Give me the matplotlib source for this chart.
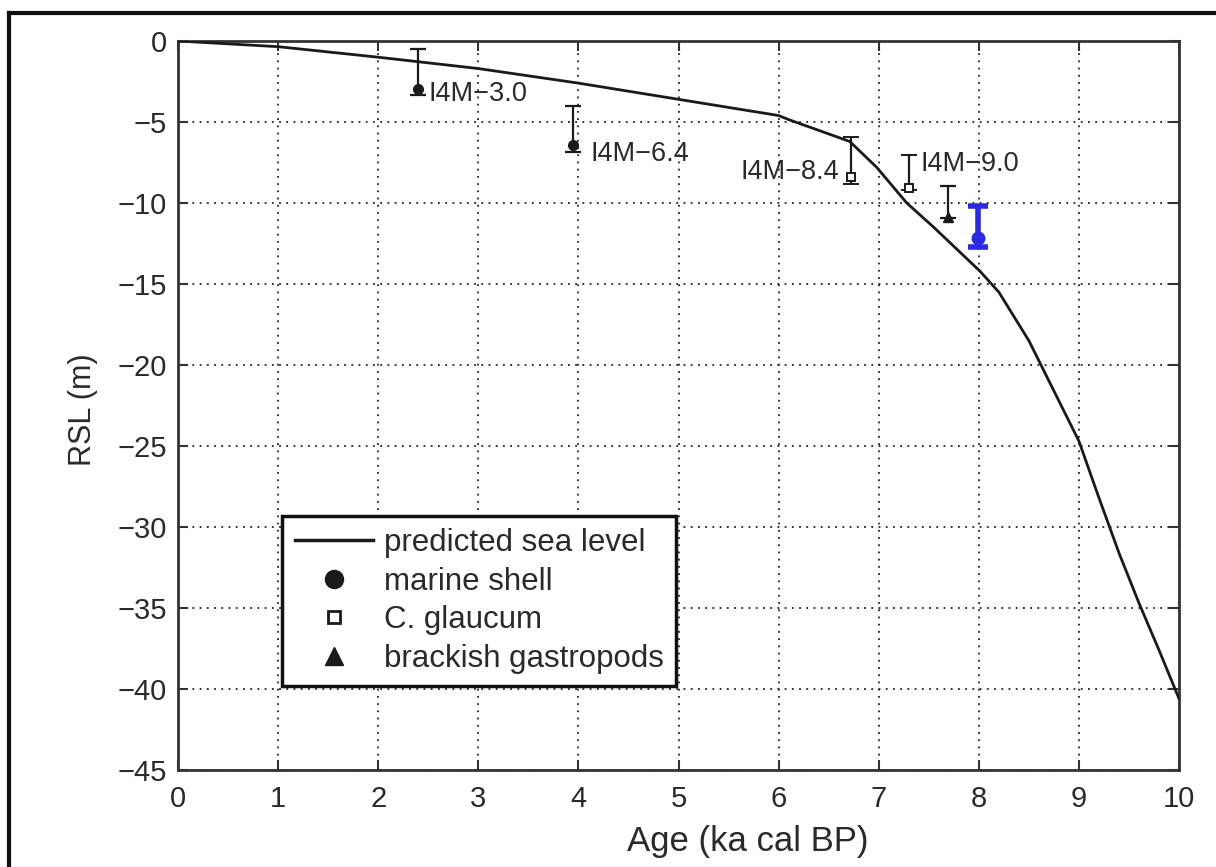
import matplotlib
matplotlib.use("Agg")
import matplotlib.pyplot as plt
from matplotlib.lines import Line2D

plt.rcParams['font.family'] = ['Liberation Sans', 'DejaVu Sans']

# Predicted relative sea level curve
curve_age = [0.0, 1.0, 2.0, 3.0, 4.0, 5.0, 6.0, 6.1, 6.71, 6.98, 7.28, 7.55, 8.01, 8.2, 8.5, 9.0, 9.2, 9.4, 9.6, 9.8, 10.0]
curve_rsl = [0.0, -0.35, -1.0, -1.7, -2.6, -3.6, -4.6, -4.85, -6.2, -7.8, -10.0, -11.5, -14.2, -15.5, -18.5, -24.7, -28.2, -31.6, -34.7, -37.6, -40.6]

# Dated samples: age, RSL, lower/upper error extents
shell_age = [2.40, 3.95]
shell_rsl = [-2.95, -6.4]
shell_lo = [0.4, 0.45]
shell_hi = [2.45, 2.4]

glaucum_age = [6.72, 7.30]
glaucum_rsl = [-8.4, -9.05]
glaucum_lo = [0.4, 0.15]
glaucum_hi = [2.45, 2.0]

gastro_age = [7.69]
gastro_rsl = [-10.85]
gastro_lo = [0.1]
gastro_hi = [1.9]

new_age = [7.99]
new_rsl = [-12.15]
new_lo = [0.55]
new_hi = [1.95]

sample_labels = ["I4M−3.0", "I4M−6.4", "I4M−8.4", "I4M−9.0"]
label_xy = [(2.5, -3.3), (4.12, -6.95), (6.6, -8.1), (7.42, -7.6)]
label_ha = ["left", "left", "right", "left"]

x_ticks = list(range(0, 11))
y_ticks = list(range(0, -50, -5))

fig = plt.figure(figsize=(12.16, 8.67), dpi=100)
ax = fig.add_axes([0.1464, 0.1119, 0.8232, 0.8408])

ink = "#1a1a1a"
txt = "#2a2a2a"

ax.plot(curve_age, curve_rsl, color=ink, lw=2.0, label="predicted sea level", zorder=3)

cap = dict(capsize=6, capthick=1.6, elinewidth=1.6, ecolor=ink, ls="none", zorder=4)
ax.errorbar(shell_age, shell_rsl, yerr=[shell_lo, shell_hi], fmt="o", ms=7,
            mfc=ink, mec=ink, **cap)
ax.errorbar(glaucum_age, glaucum_rsl, yerr=[glaucum_lo, glaucum_hi], fmt="s", ms=6,
            mfc="white", mec=ink, mew=1.4, **cap)
ax.errorbar(gastro_age, gastro_rsl, yerr=[gastro_lo, gastro_hi], fmt="^", ms=7,
            mfc=ink, mec=ink, **cap)
ax.errorbar(new_age, new_rsl, yerr=[new_lo, new_hi], fmt="o", ms=9,
            mfc="#2a2ae6", mec="#2a2ae6", capsize=7, capthick=4, elinewidth=4,
            ecolor="#2a2ae6", ls="none", zorder=5)

for s, (lx, ly), ha in zip(sample_labels, label_xy, label_ha):
    ax.text(lx, ly, s, ha=ha, va="center", fontsize=19.5, color=txt, zorder=6)

ax.set_xlim(0, 10)
ax.set_ylim(-45, 0)
ax.set_xticks(x_ticks)
ax.set_yticks(y_ticks)
ax.grid(True, color="#222222", ls=(0, (1, 3)), lw=1.3)
ax.tick_params(direction="in", length=7, width=1.5, top=True, right=True,
               labelsize=21, labelcolor=txt, color="#333333")
ax.tick_params(axis="x", pad=11)
ax.tick_params(axis="y", pad=8)
for sp in ax.spines.values():
    sp.set_color("#333333")
    sp.set_linewidth(2)

ax.set_xlabel("Age (ka cal BP)", fontsize=25, color=txt)
ax.xaxis.set_label_coords(0.569, -0.075)
ax.set_ylabel("RSL (m)", fontsize=22, color=txt)
ax.yaxis.set_label_coords(-0.08, 0.494)

handles = [
    Line2D([], [], color=ink, lw=2.5),
    Line2D([], [], marker="o", ls="none", color=ink, ms=13),
    Line2D([], [], marker="s", ls="none", mfc="white", mec=ink, mew=2, ms=9),
    Line2D([], [], marker="^", ls="none", color=ink, ms=13),
]
names = ["predicted sea level", "marine shell", "C. glaucum", "brackish gastropods"]
leg = ax.legend(handles, names, loc="lower left", bbox_to_anchor=(0.104, 0.115),
                fontsize=22.5, handlelength=2.5, handletextpad=0.35, labelspacing=0.27,
                borderpad=0.4, fancybox=False, framealpha=1, edgecolor="#111111",
                borderaxespad=0)
leg.get_frame().set_linewidth(2.5)
for t in leg.get_texts():
    t.set_color(txt)

# Page border around the figure
fig.add_artist(Line2D([9 / 1216, 9 / 1216], [0, 1 - 13 / 867], transform=fig.transFigure,
                      color="#111111", lw=3))
fig.add_artist(Line2D([9 / 1216, 1], [1 - 13 / 867, 1 - 13 / 867], transform=fig.transFigure,
                      color="#111111", lw=3))

fig.savefig("out.png", dpi=100, facecolor="white")
